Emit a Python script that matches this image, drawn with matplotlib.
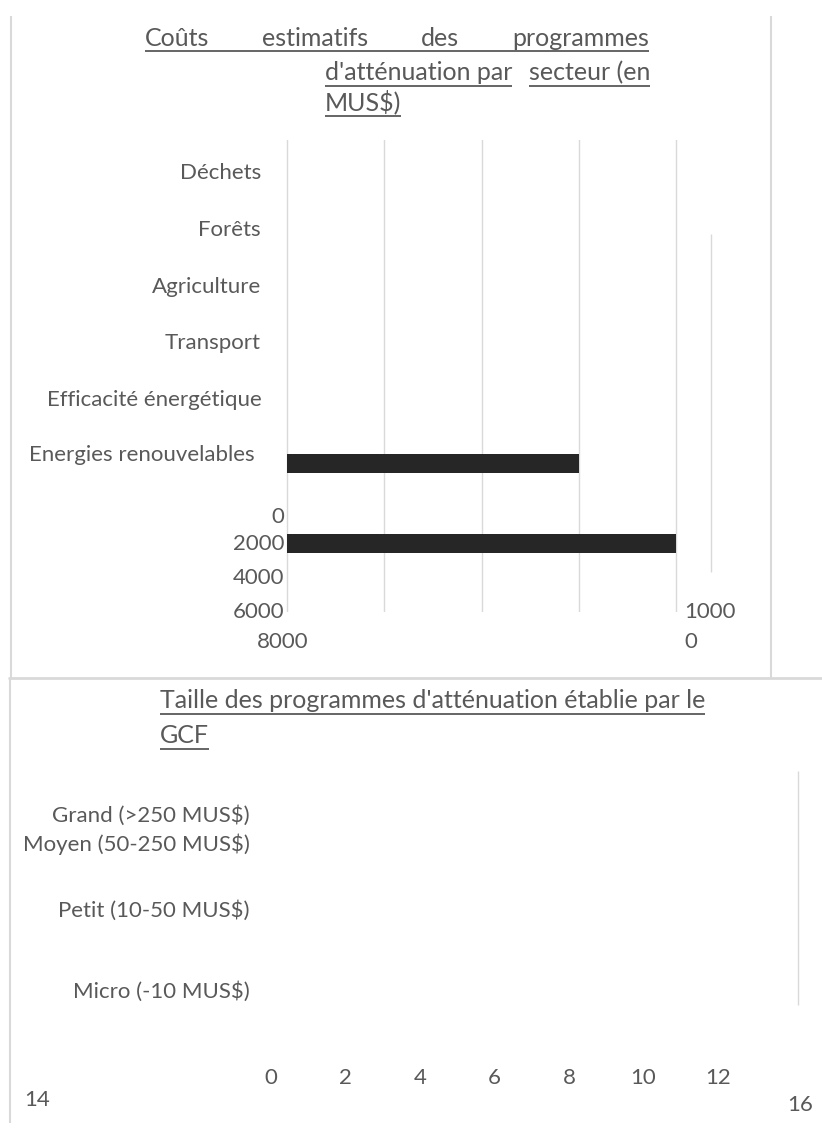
import matplotlib
matplotlib.use("Agg")
import matplotlib.pyplot as plt
from matplotlib.lines import Line2D
from matplotlib.transforms import IdentityTransform, blended_transform_factory

W, H = 822, 1129
TXT = "#595959"
GRIS = "#d9d9d9"
NOIR = "#262626"
plt.rcParams["font.family"] = ["Lato", "DejaVu Sans"]

# --- graphique 1 : couts par secteur (MUS$)
secteurs = ["Déchets", "Forêts", "Agriculture", "Transport",
            "Efficacité énergétique", "Energies renouvelables"]
couts = [0, 0, 0, 0, 0, 6000]
cout_orphelin = 8000          # barre sans libellé sous les secteurs
grille_haut = [0, 2000, 4000, 6000, 8000]
etiq_haut = ["0", "2000", "4000", "6000", "8000", "10000"]

# --- graphique 2 : taille des programmes
tailles = ["Grand (>250 MUS$)", "Moyen (50-250 MUS$)",
           "Petit (10-50 MUS$)", "Micro (-10 MUS$)"]
nb_prog = [0, 0, 0, 0]
etiq_bas = [0, 2, 4, 6, 8, 10, 12, 14, 16]

# mise en page (pixels, origine en haut)
lignes_secteurs = [173, 230, 287, 343, 400, 455]
droite_secteurs = [261, 261, 261, 261, 262, 255]
lignes_barres = [173, 230, 287, 343, 400, 464]
ligne_orphelin = 544
lignes_etiq_haut = [517, 544, 578, 612, 642]
lignes_tailles = [816, 844, 911, 992]
FS = 16
FT = 18

fig = plt.figure(figsize=(W / 100, H / 100), dpi=100)
px = IdentityTransform()


def T(x, y, s, **kw):
    kw.setdefault("color", TXT)
    kw.setdefault("fontsize", FS)
    return fig.text(x, H - y, s, transform=px, **kw)


def trait(x0, y0, x1, y1, c=GRIS, lw=1.5):
    fig.add_artist(Line2D([x0, x1], [H - y0, H - y1], color=c, lw=lw,
                          transform=px, solid_capstyle="butt"))


# cadres
trait(11, 16, 11, 678)
trait(771, 16, 771, 678)
trait(8, 678, 822, 678, lw=2.0)
trait(9.5, 678, 9.5, 1123)
trait(711, 234, 711, 572, lw=1.0)
trait(798, 771, 798, 1005, lw=1.0)

# axe du haut
x0, x1 = 287, 676
k = (x1 - x0) / 8000
ax = fig.add_axes([(x0 - 200 * k) / W, 1 - 612 / H, (8400 * k) / W, (612 - 140) / H])
ax.set_xlim(-200, 8200)
ax.set_ylim(612, 140)
ax.barh(lignes_barres, couts, height=19, color=NOIR, zorder=3)
ax.barh([ligne_orphelin], [cout_orphelin], height=19, color=NOIR, zorder=3)
ax.set_xticks(grille_haut)
ax.grid(axis="x", color=GRIS, lw=1.0)
ax.set_yticks([])
ax.tick_params(length=0, labelbottom=False)
for s in ax.spines.values():
    s.set_visible(False)
ax.patch.set_alpha(0)

for nom, y, xr in zip(secteurs, lignes_secteurs, droite_secteurs):
    T(xr, y, nom, ha="right", va="center")
for lab, y in zip(etiq_haut[:4], lignes_etiq_haut[:4]):
    T(284, y, lab, ha="right", va="center")
T(283, lignes_etiq_haut[4], etiq_haut[4], ha="center", va="center")
T(684, lignes_etiq_haut[3], etiq_haut[5][:4], ha="left", va="center")
T(684, lignes_etiq_haut[4], etiq_haut[5][4:], ha="left", va="center")

# titres soulignés
souligner = []
t = [T(145, 46, "Coûts", fontsize=FT),
     T(262, 46, "estimatifs", fontsize=FT),
     T(421, 46, "des", fontsize=FT),
     T(649, 46, "programmes", fontsize=FT, ha="right")]
souligner.append((t[0], t[-1], 51))
a = T(325, 80, "d'atténuation par", fontsize=FT)
b = T(650, 80, "secteur (en", fontsize=FT, ha="right")
souligner += [(a, a, 86), (b, b, 86)]
c = T(325, 110, "MUS$)", fontsize=FT)
souligner.append((c, c, 116))
d = T(160, 708, "Taille des programmes d'atténuation établie par le", fontsize=FT)
e = T(160, 743, "GCF", fontsize=FT)
souligner += [(d, d, 714), (e, e, 749)]

# axe du bas
bx0, bx1 = 271, 718
ax2 = fig.add_axes([bx0 / W, 1 - 1005 / H, (bx1 - bx0) / W, (1005 - 771) / H])
ax2.set_xlim(0, 12)
ax2.barh(range(len(tailles)), nb_prog, color=NOIR)
ax2.axis("off")
for nom, y in zip(tailles, lignes_tailles):
    T(250, y, nom, ha="right", va="center")
bt = blended_transform_factory(ax2.transData, px)
for v in etiq_bas[:7]:
    ax2.text(v, H - 1078, str(v), transform=bt, ha="center", va="center",
             color=TXT, fontsize=FS)
T(37, 1100, str(etiq_bas[7]), ha="center", va="center")
T(800, 1105, str(etiq_bas[8]), ha="center", va="center")

fig.canvas.draw()
r = fig.canvas.get_renderer()
for g, dr, y in souligner:
    bg = g.get_window_extent(r)
    bd = dr.get_window_extent(r)
    trait(bg.x0, y, bd.x1, y, c=TXT, lw=1.3)

fig.savefig("out.png", dpi=100)
